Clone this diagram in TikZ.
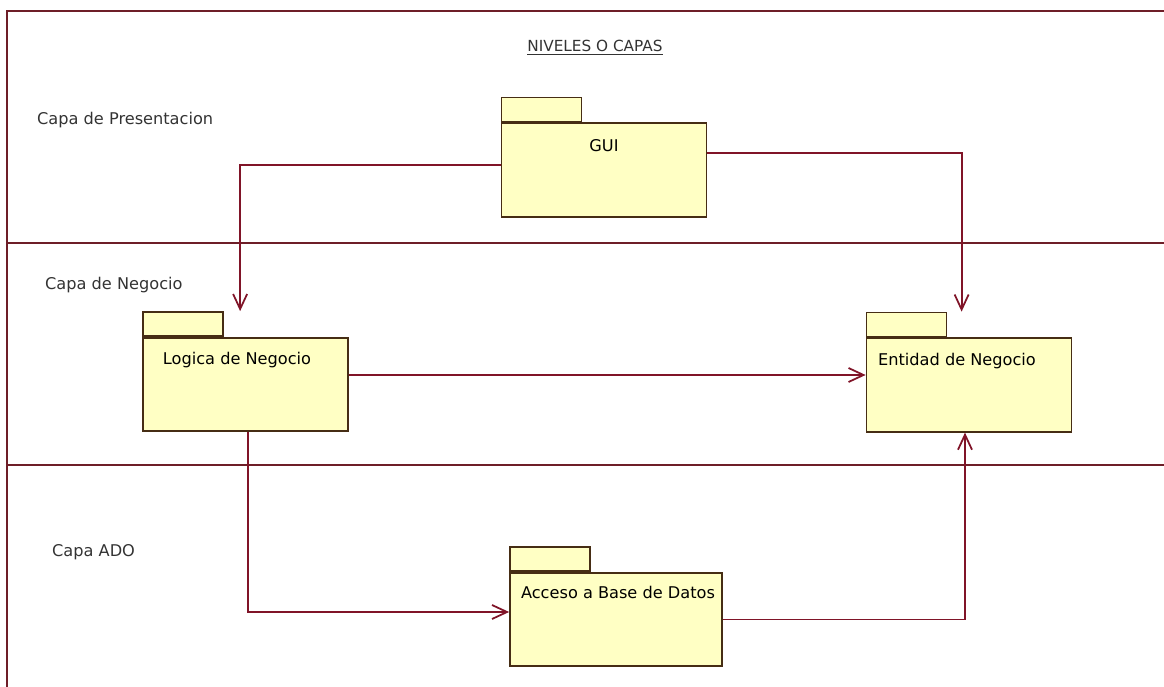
\documentclass[tikz,border=0pt]{standalone}
\usepackage{fontspec}
\setmainfont{DejaVu Sans}
\usetikzlibrary{arrows.meta,positioning}

\definecolor{framered}{RGB}{110,30,40}
\definecolor{linkred}{RGB}{128,20,40}
\definecolor{pkgfill}{RGB}{255,255,196}
\definecolor{pkgedge}{RGB}{70,45,20}

\begin{document}
\begin{tikzpicture}[>={Straight Barb[length=3mm,width=2.8mm]},
    font=\fontsize{9.2}{11}\selectfont,
    pkg/.style={draw=pkgedge, fill=pkgfill, line width=1pt, minimum width=4.1cm, minimum height=1.87cm, inner sep=0pt},
    pkgtab/.style={draw=pkgedge, fill=pkgfill, line width=1pt, minimum width=1.6cm, minimum height=0.48cm, inner sep=0pt, anchor=south west},
    conn/.style={draw=linkred, line width=1pt},
    layer/.style={anchor=west, text=black!80}]
    \useasboundingbox (0,0) rectangle (23.28,-13.74);

    % marco y separacion de capas
    \draw[framered, line width=1.1pt] (23.28,-0.22) -- (0.14,-0.22) -- (0.14,-13.74);
    \draw[framered, line width=1.1pt] (0.14,-4.86) -- (23.28,-4.86);
    \draw[framered, line width=1.1pt] (0.14,-9.30) -- (23.28,-9.30);

    % titulo y nombres de capa
    \node[font=\fontsize{8.7}{10}\selectfont, text=black!80] (titulo) at (11.9,-0.96) {\underline{NIVELES O CAPAS}};
    \node[layer] (presentacion) at (0.62,-2.40) {Capa de Presentacion};
    \node[layer] (negocio) at (0.78,-5.70) {Capa de Negocio};
    \node[layer] (ado) at (0.92,-11.04) {Capa ADO};

    % paquetes
    \node[pkg] (gui) at (12.08,-3.40) {};
    \node[pkgtab] (guitab) at (gui.north west) {};
    \node at ([yshift=-0.46cm]gui.north) {GUI};

    \node[pkg] (logica) at (4.91,-7.69) {};
    \node[pkgtab] (logicatab) at (logica.north west) {};
    \node at ([xshift=-0.17cm,yshift=-0.46cm]logica.north) {Logica de Negocio};

    \node[pkg] (entidad) at (19.38,-7.70) {};
    \node[pkgtab] (entidadtab) at (entidad.north west) {};
    \node at ([xshift=-0.24cm,yshift=-0.48cm]entidad.north) {Entidad de Negocio};

    \node[pkg, minimum width=4.24cm] (acceso) at (12.32,-12.39) {};
    \node[pkgtab] (accesotab) at (acceso.north west) {};
    \node at ([xshift=0.04cm,yshift=-0.42cm]acceso.north) {Acceso a Base de Datos};

    % dependencias
    \coordinate (guiizq) at ([yshift=0.10cm]gui.west);
    \coordinate (guider) at ([yshift=0.34cm]gui.east);
    \coordinate (logicain) at ([xshift=1.96cm]logicatab.north west);
    \coordinate (entidadin) at ([xshift=1.92cm]entidadtab.north west);
    \coordinate (logicader) at ([yshift=0.19cm]logica.east);
    \coordinate (accesoin) at ([yshift=0.15cm]acceso.west);

    \draw[conn, ->] (guiizq) -| (logicain);
    \draw[conn, ->] (guider) -| (entidadin);
    \draw[conn, ->] (logicader) -- (logicader -| entidad.west);
    \draw[conn, ->] ([xshift=0.05cm]logica.south) |- (accesoin);
    \draw[conn, ->] (acceso.east) -| ([xshift=-0.08cm]entidad.south);
\end{tikzpicture}
\end{document}
